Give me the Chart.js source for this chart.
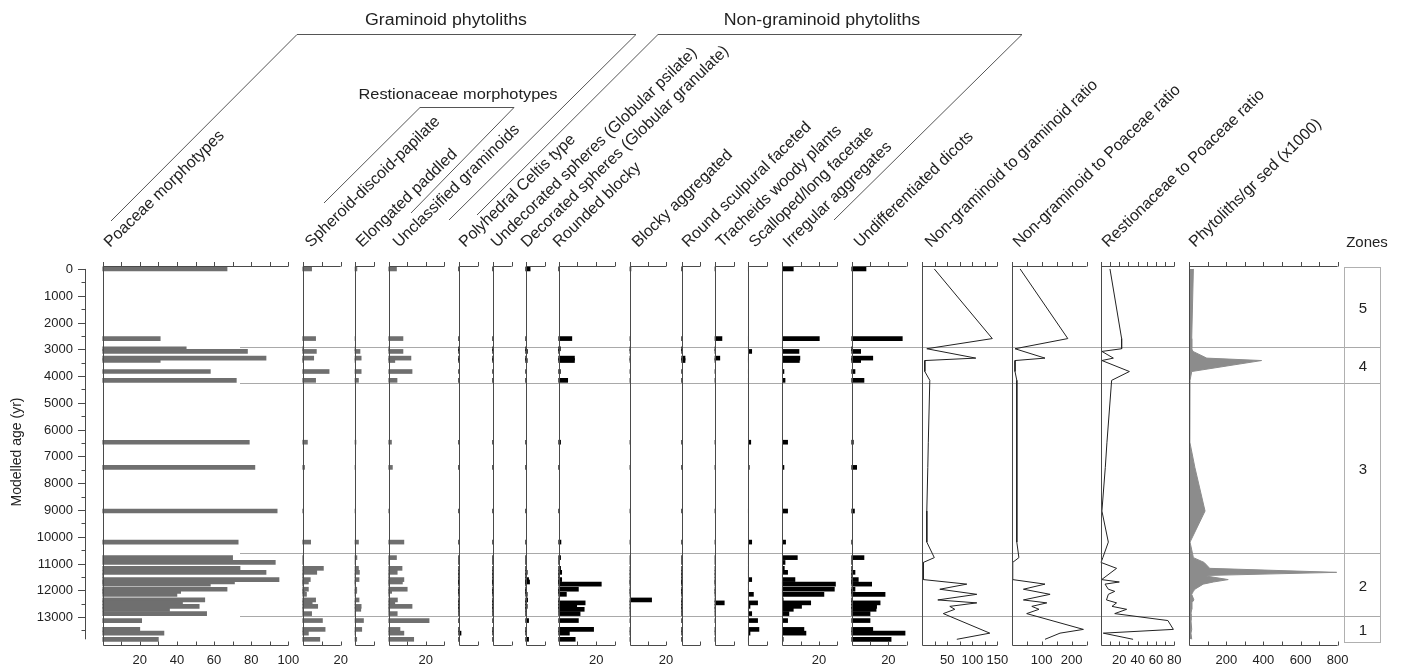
<!DOCTYPE html>
<html>
<head>
<meta charset="utf-8">
<script src="https://cdn.jsdelivr.net/npm/chart.js@4.4.0/dist/chart.umd.min.js"></script>
<style>
  html, body { margin: 0; padding: 0; background: #fff; }
  #wrap { position: relative; width: 1402px; height: 670px; }
</style>
</head>
<body>
<div id="wrap"><canvas id="diagram" width="1402" height="670"></canvas></div>
<script>
// Sample ages (modelled age, yr) shared by every panel
const ages = [0, 2600, 2980, 3080, 3330, 3420, 3830, 4160, 6470, 7410, 9040, 10200,
  10780, 10960, 11180, 11330, 11450, 11600, 11690, 11770, 11960, 12040, 12150,
  12360, 12470, 12600, 12710, 12870, 13130, 13460, 13600, 13830];

// Graminoid phytoliths (%)
const poaceae      = [67, 31, 45, 78, 88, 31, 58, 72, 79, 82, 94, 73, 70, 93, 74, 88, 0, 95, 71, 58, 67, 42, 40, 55, 43, 52, 36, 56, 21, 20, 33, 30];
const spheroid     = [4.7, 6.8, 0, 7.2, 5.8, 0, 13.9, 6.8, 2.5, 1, 0, 4.2, 0, 0, 10.9, 7.4, 0, 4, 3, 0, 3, 1.2, 2, 6.8, 5, 7.9, 0, 4.7, 10.4, 11.8, 3, 9];
const elongated    = [1, 0, 0, 2.6, 3.2, 0, 3.2, 1.8, 0.5, 0.3, 0, 1.8, 1, 0, 1.8, 2.3, 0, 2.1, 0, 0, 0.9, 0.9, 0, 2.1, 0, 3.2, 3, 0, 4.4, 3.5, 0, 0.9];
const unclassified = [4.2, 7.7, 0, 7.7, 12, 3.3, 12.6, 4.5, 1.5, 2, 0, 8.2, 4.2, 0, 7.2, 4.6, 0, 8.2, 7.4, 0, 10, 1.6, 0, 4.7, 3.3, 12.6, 0, 4.6, 21.8, 6.1, 8.2, 13.5];

// Non-graminoid phytoliths (%)
const celtis       = [0, 0, 0, 0, 0, 0, 0, 0, 0, 0, 0, 0, 0, 0, 0, 0, 0, 0, 0, 0, 0, 0, 0, 0, 0, 0, 0, 0, 0, 0, 1.2, 0];
const undecorated  = [0, 0, 0, 0, 0, 0.4, 0, 0, 0, 0, 0, 0, 0, 0, 0, 0, 0, 0, 0, 0, 0, 0, 0.4, 0, 0, 0, 0, 0, 0, 0, 0, 0];
const decorated    = [2.3, 0, 0, 0.9, 0, 0.8, 0, 0, 0, 0, 0, 0, 0, 0, 0, 0.8, 0, 1.5, 2, 0, 0, 0, 0.8, 1, 0, 0.8, 0, 0, 1.5, 0, 0, 1.5];
const roundedBlocky = [0, 7, 0.9, 0, 8.4, 8.4, 0.9, 4.8, 1, 0.5, 0, 1.2, 1, 0, 1, 1.6, 0, 1.6, 0, 22.7, 10.5, 0, 4.1, 0, 14.1, 9.6, 13.6, 11.4, 10.5, 18.6, 5.7, 8.8];
const blockyAgg    = [0.5, 0, 0, 0, 0, 0, 0, 0, 0, 0, 0, 0, 0, 0, 0, 0, 0, 0, 0, 0, 0, 0, 0, 12, 0, 0, 0, 0, 0, 0, 0, 0];
const roundSculp   = [0, 0, 0, 0, 1.8, 1.8, 0, 0, 0, 0, 0, 0, 0, 0, 0, 0, 0, 0, 0, 0, 0, 0, 0, 0, 0, 0, 0, 0, 0, 0, 0, 0];
const tracheids    = [0, 3.6, 0, 0, 2.5, 0, 0, 0, 0, 0, 0, 0, 0, 0, 0, 0, 0, 0, 0, 0, 0, 0, 0, 0, 4.8, 0, 0, 0, 0, 0, 0, 0];
const scalloped    = [0, 0, 0, 1.8, 0, 0, 0, 0, 1.3, 0.5, 0, 1.8, 0, 0, 0, 0, 0, 1.8, 0, 0, 0, 0, 2.7, 0, 4.9, 0.9, 0, 1.8, 4.9, 5.6, 0.9, 0];
const irregular    = [6, 20.2, 0, 9.1, 9.6, 9.3, 0.9, 1.5, 2.9, 0.9, 2.9, 1.8, 8.2, 1.5, 1.1, 2.9, 0, 6.9, 0, 29, 28.4, 0, 22.7, 0.5, 15.5, 10.5, 6, 3.6, 2.9, 11.8, 12.9, 0.5];
const undiff       = [7.8, 27.6, 0, 4.9, 11.5, 4.9, 1.8, 6.7, 0.9, 2.7, 1.5, 0, 6.7, 0, 0, 1.8, 0, 3.6, 0, 10.9, 1.8, 0, 18.2, 0, 15.5, 13.6, 13.3, 10, 10, 11.5, 29.1, 21.5];

// Ratios and concentration (null = no sample drawn in that curve)
const ngGram  = [24, 140, 9, null, 107, 5, 5, 15, 12, 11, 9, 9, 24, 2, null, null, null, 2, null, 89, 35, null, 109, 31, 109, 55, 65, 42, null, null, 135, 69];
const ngPoa   = [28, 187, 11, null, 111, 11, 11, 17, 17, 17, 17, 17, 24, 3, null, null, null, 3, null, 111, 39, null, 128, 39, 117, 67, 91, 50, null, 239, 161, 111];
const restPoa = [9.8, 22.5, 22.5, 1, 13.5, 1, 31, 11.6, 6.5, 4.7, 1, 8, 2, 0, 17, null, null, 0.7, 20, 4.4, 8, 15, 8, 6, 17, 12, 28, 15, 73, 79, 2.5, 35];
const phyto   = [22, 13, 13, 20, 94, 390, 13, 4, 3, 30, 85, 4, 22, 80, 110, 795, 75, 210, 130, 75, 30, 22, 13, 25, 13, 13, 13, 9, 9, 13, 9, 13];

// Tick labels
const ageTicks = [0, 1000, 2000, 3000, 4000, 5000, 6000, 7000, 8000, 9000, 10000, 11000, 12000, 13000];
const poaceaeTicks = [20, 40, 60, 80, 100];
const pctTicks = [20];
const ngGramTicks = [50, 100, 150];
const ngPoaTicks = [100, 200];
const restPoaTicks = [20, 40, 60, 80];
const phytoTicks = [200, 400, 600, 800];

// Zones
const zoneBounds = [2930, 4270, 10590, 12970];
const zoneNames = ['5', '4', '3', '2', '1'];

const panelTitles = ['Poaceae morphotypes', 'Spheroid-discoid-papilate', 'Elongated paddled',
  'Unclassified graminoids', 'Polyhedral Celtis type', 'Undecorated spheres (Globular psilate)',
  'Decorated spheres (Globular granulate)', 'Rounded blocky', 'Blocky aggregated',
  'Round sculpural faceted', 'Tracheids woody plants', 'Scalloped/long facetate',
  'Irregular aggregates', 'Undifferentiated dicots', 'Non-graminoid to graminoid ratio',
  'Non-graminoid to Poaceae ratio', 'Restionaceae to Poaceae ratio', 'Phytoliths/gr sed (x1000)'];

// Panel layout: pixel position of value 0, pixel width of the axis, axis max, tick step
const GRAY = '#6f6f6f';
const BLACK = '#000000';
const panels = [
  { values: poaceae,       kind: 'bar', color: GRAY,  left: 102.7,  width: 185.6, max: 100, step: 10, ticks: poaceaeTicks, labelX: 110 },
  { values: spheroid,      kind: 'bar', color: GRAY,  left: 302.7,  width: 38,    max: 20,  step: 10, ticks: pctTicks, labelX: 311 },
  { values: elongated,     kind: 'bar', color: GRAY,  left: 355,    width: 19.3,  max: 10,  step: 10, ticks: [], labelX: 362 },
  { values: unclassified,  kind: 'bar', color: GRAY,  left: 388.7,  width: 55.6,  max: 30,  step: 10, ticks: pctTicks, labelX: 399 },
  { values: celtis,        kind: 'bar', color: BLACK, left: 458.7,  width: 19.3,  max: 10,  step: 10, ticks: [], labelX: 465 },
  { values: undecorated,   kind: 'bar', color: BLACK, left: 492.7,  width: 19,    max: 10,  step: 10, ticks: [], labelX: 497 },
  { values: decorated,     kind: 'bar', color: BLACK, left: 525.7,  width: 19.3,  max: 10,  step: 10, ticks: [], labelX: 527 },
  { values: roundedBlocky, kind: 'bar', color: BLACK, left: 558.7,  width: 56.3,  max: 30,  step: 10, ticks: pctTicks, labelX: 559 },
  { values: blockyAgg,     kind: 'bar', color: BLACK, left: 630,    width: 36,    max: 20,  step: 10, ticks: pctTicks, labelX: 638 },
  { values: roundSculp,    kind: 'bar', color: BLACK, left: 681.7,  width: 18.5,  max: 10,  step: 10, ticks: [], labelX: 688 },
  { values: tracheids,     kind: 'bar', color: BLACK, left: 715,    width: 19.3,  max: 10,  step: 10, ticks: [], labelX: 722 },
  { values: scalloped,     kind: 'bar', color: BLACK, left: 748.3,  width: 19,    max: 10,  step: 10, ticks: [], labelX: 755 },
  { values: irregular,     kind: 'bar', color: BLACK, left: 782.3,  width: 55,    max: 30,  step: 10, ticks: pctTicks, labelX: 789 },
  { values: undiff,        kind: 'bar', color: BLACK, left: 851.7,  width: 55,    max: 30,  step: 10, ticks: pctTicks, labelX: 860 },
  { values: ngGram,        kind: 'line', color: '#222', left: 922.3,  width: 75,    max: 150, step: 25, ticks: ngGramTicks, labelX: 931 },
  { values: ngPoa,         kind: 'line', color: '#222', left: 1011.7, width: 75,    max: 250, step: 50, ticks: ngPoaTicks, labelX: 1019 },
  { values: restPoa,       kind: 'line', color: '#222', left: 1101,   width: 73.3,  max: 80,  step: 10, ticks: restPoaTicks, labelX: 1108 },
  { values: phyto,         kind: 'area', color: '#8c8c8c', left: 1189.3, width: 148.3, max: 800, step: 100, ticks: phytoTicks, labelX: 1195 }
];

const AREA = { left: 100, right: 1387, top: 266, bottom: 646 };
const FONT = '"Liberation Sans", Arial, sans-serif';

// Each panel gets its own hidden x scale, stretched so 0..max lands on the panel's pixels
const scales = {
  y: { type: 'linear', display: false, reverse: true, offset: false, min: -110, max: 14080 }
};
panels.forEach((p, i) => {
  const unit = p.max / p.width;
  scales['x' + i] = {
    type: 'linear',
    display: false,
    offset: false,
    min: -(p.left - AREA.left) * unit,
    max: (AREA.right - p.left) * unit
  };
});

const datasets = panels.map((p, i) => {
  const points = [];
  ages.forEach((a, j) => {
    if (p.values[j] !== null) points.push({ x: p.values[j], y: a });
  });
  if (p.kind === 'bar') {
    return {
      type: 'bar', indexAxis: 'y', xAxisID: 'x' + i, yAxisID: 'y',
      data: points, backgroundColor: p.color, borderWidth: 0,
      barThickness: 4, grouped: false
    };
  }
  return {
    type: 'line', indexAxis: 'y', xAxisID: 'x' + i, yAxisID: 'y',
    data: points, borderColor: p.color, borderWidth: 1, pointRadius: 0,
    tension: 0, fill: p.kind === 'area' ? 'origin' : false,
    backgroundColor: p.kind === 'area' ? p.color : 'transparent'
  };
});

function seg(ctx, x1, y1, x2, y2) {
  ctx.beginPath();
  ctx.moveTo(x1, y1);
  ctx.lineTo(x2, y2);
  ctx.stroke();
}

function crisp(v) {
  return Math.round(v) + 0.5;
}

// horizontal text is a little wider in the original figure
function wideText(ctx, text, x, y, stretch) {
  ctx.save();
  ctx.translate(x, y);
  ctx.scale(stretch, 1);
  ctx.fillText(text, 0, 0);
  ctx.restore();
}

// Frame, axes, headers and zones drawn around the library's own scales
const diagramFrame = {
  id: 'diagramFrame',
  beforeDatasetsDraw(chart) {
    const ctx = chart.ctx;
    const ys = chart.scales.y;
    ctx.save();
    ctx.strokeStyle = '#a9a9a9';
    ctx.lineWidth = 1;
    zoneBounds.forEach(age => {
      const py = crisp(ys.getPixelForValue(age));
      seg(ctx, 240, py, 1380, py);
    });
    ctx.restore();
  },
  afterDraw(chart) {
    const ctx = chart.ctx;
    const ys = chart.scales.y;
    ctx.save();
    ctx.strokeStyle = '#4a4a4a';
    ctx.fillStyle = '#222';
    ctx.lineWidth = 1;

    // Age axis
    const axisX = 85.5;
    seg(ctx, axisX, ys.getPixelForValue(0), axisX, ys.getPixelForValue(13830));
    ctx.font = '13px ' + FONT;
    ctx.textAlign = 'right';
    ctx.textBaseline = 'middle';
    ageTicks.forEach(a => {
      const py = crisp(ys.getPixelForValue(a));
      seg(ctx, 78, py, axisX, py);
      ctx.fillText(String(a), 73, py);
      if (a + 500 <= 13500) {
        const pm = crisp(ys.getPixelForValue(a + 500));
        seg(ctx, 81.5, pm, axisX, pm);
      }
    });
    ctx.save();
    ctx.font = '14px ' + FONT;
    ctx.translate(17, 452);
    ctx.rotate(-Math.PI / 2);
    ctx.textAlign = 'center';
    ctx.fillText('Modelled age (yr)', 0, 0);
    ctx.restore();

    // Panel frames
    const topY = 266.5, botY = 645.5;
    panels.forEach((p, i) => {
      const sx = chart.scales['x' + i];
      const x0 = crisp(sx.getPixelForValue(0));
      const x1 = sx.getPixelForValue(p.max);
      seg(ctx, x0, 262, x0, botY);
      seg(ctx, x0, topY, x1, topY);
      seg(ctx, x0, botY, x1, botY);
      for (let v = p.step; v <= p.max + 1e-6; v += p.step) {
        const tx = crisp(sx.getPixelForValue(v));
        seg(ctx, tx, 262, tx, topY);
        seg(ctx, tx, 641.5, tx, botY);
      }
      ctx.textAlign = 'center';
      ctx.textBaseline = 'middle';
      ctx.font = '13px ' + FONT;
      p.ticks.forEach(v => ctx.fillText(String(v), sx.getPixelForValue(v), 660));
    });

    // Rotated panel titles
    ctx.font = '16px ' + FONT;
    ctx.textAlign = 'left';
    ctx.textBaseline = 'alphabetic';
    panels.forEach((p, i) => {
      ctx.save();
      ctx.translate(p.labelX, 248);
      ctx.rotate(-0.77);
      ctx.fillText(panelTitles[i], 0, 0);
      ctx.restore();
    });

    // Group brackets
    const brackets = [
      [[111, 221], [297, 34.5], [636, 34.5], [449, 220]],
      [[324, 203], [420, 107.5], [514, 107.5], [411, 213]],
      [[477, 215], [658, 34.5], [1022, 34.5], [834, 220]]
    ];
    ctx.strokeStyle = '#555';
    brackets.forEach(b => {
      ctx.beginPath();
      ctx.moveTo(b[0][0], b[0][1]);
      b.slice(1).forEach(pt => ctx.lineTo(pt[0], pt[1]));
      ctx.stroke();
    });
    ctx.textAlign = 'center';
    ctx.textBaseline = 'alphabetic';
    ctx.font = '16px ' + FONT;
    wideText(ctx, 'Graminoid phytoliths', 446, 25, 1.11);
    wideText(ctx, 'Non-graminoid phytoliths', 822, 25, 1.11);
    ctx.font = '15px ' + FONT;
    wideText(ctx, 'Restionaceae morphotypes', 458, 99, 1.09);

    // Zones column
    ctx.strokeStyle = '#b0b0b0';
    ctx.strokeRect(1344.5, 267.5, 36, 375);
    ctx.textBaseline = 'middle';
    ctx.fillText('Zones', 1367, 243);
    const edges = [0].concat(zoneBounds, [13830]);
    zoneNames.forEach((z, k) => {
      const yTop = k === 0 ? 267 : ys.getPixelForValue(edges[k]);
      const yBot = k === zoneNames.length - 1 ? 642 : ys.getPixelForValue(edges[k + 1]);
      ctx.fillText(z, 1363, (yTop + yBot) / 2 + 2);
    });
    ctx.restore();
  }
};

new Chart(document.getElementById('diagram').getContext('2d'), {
  type: 'bar',
  data: { datasets: datasets },
  options: {
    indexAxis: 'y',
    responsive: false,
    animation: false,
    devicePixelRatio: 1,
    layout: {
      padding: { left: AREA.left, right: 1402 - AREA.right, top: AREA.top, bottom: 670 - AREA.bottom }
    },
    plugins: {
      legend: { display: false },
      tooltip: { enabled: false }
    },
    scales: scales
  },
  plugins: [diagramFrame]
});
</script>
</body>
</html>
